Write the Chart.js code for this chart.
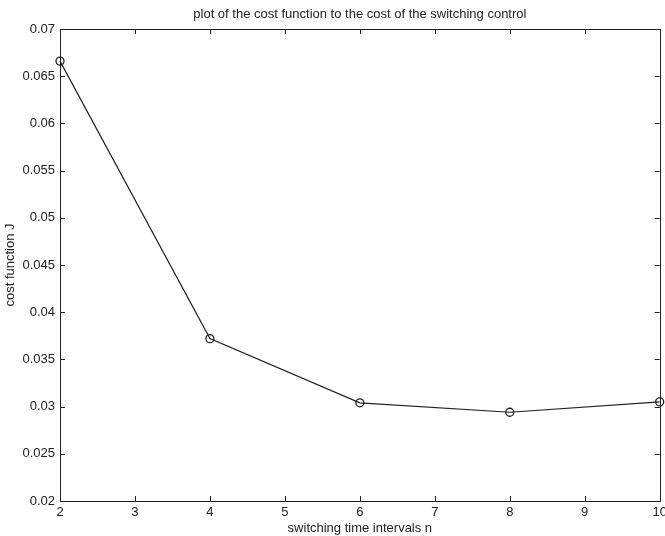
<!DOCTYPE html>
<html>
<head>
<meta charset="utf-8">
<script src="https://cdn.jsdelivr.net/npm/chart.js@4/dist/chart.umd.min.js"></script>
<style>
html,body{margin:0;padding:0;background:#fff;}
#wrap{width:665px;height:536px;position:relative;}
</style>
</head>
<body>
<div id="wrap"><canvas id="c" width="665" height="536"></canvas></div>
<script>
const intervalsN = [2, 4, 6, 8, 10];
const costJ = [0.0666, 0.0372, 0.0304, 0.0294, 0.0305];
const xTicks = [2, 3, 4, 5, 6, 7, 8, 9, 10];
const yTicks = [0.02, 0.025, 0.03, 0.035, 0.04, 0.045, 0.05, 0.055, 0.06, 0.065, 0.07];
const titleText = 'plot of the cost function to the cost of the switching control';
const xTitle = 'switching time intervals n';
const yTitle = 'cost function J';

const FONT = '"Liberation Sans", Arial, Helvetica, sans-serif';
const INK = '#222';

const boxPlugin = {
  id: 'box',
  afterDraw(chart) {
    const {ctx, chartArea: a, scales} = chart;
    ctx.save();
    ctx.strokeStyle = INK;
    ctx.lineWidth = 1;
    ctx.strokeRect(Math.round(a.left) + 0.5, Math.round(a.top) + 0.5, Math.round(a.right - a.left), Math.round(a.bottom - a.top));
    const L = 5;
    ctx.beginPath();
    xTicks.forEach(v => {
      const px = Math.round(scales.x.getPixelForValue(v)) + 0.5;
      ctx.moveTo(px, a.bottom); ctx.lineTo(px, a.bottom - L);
      ctx.moveTo(px, a.top); ctx.lineTo(px, a.top + L);
    });
    yTicks.forEach(v => {
      const py = Math.round(scales.y.getPixelForValue(v)) + 0.5;
      ctx.moveTo(a.left, py); ctx.lineTo(a.left + L, py);
      ctx.moveTo(a.right, py); ctx.lineTo(a.right - L, py);
    });
    ctx.stroke();
    ctx.fillStyle = INK;
    ctx.font = '13px ' + FONT;
    ctx.textAlign = 'center';
    ctx.textBaseline = 'middle';
    ctx.fillText(titleText, (a.left + a.right) / 2, 14);
    ctx.restore();
  }
};

new Chart(document.getElementById('c'), {
  type: 'line',
  data: {
    datasets: [{
      data: intervalsN.map((n, i) => ({x: n, y: costJ[i]})),
      borderColor: INK,
      borderWidth: 1.2,
      pointRadius: 4,
      pointBorderWidth: 1.3,
      pointBorderColor: INK,
      pointBackgroundColor: 'rgba(0,0,0,0)',
      pointStyle: 'circle',
      tension: 0,
      fill: false,
      clip: false
    }]
  },
  options: {
    responsive: false,
    animation: false,
    events: [],
    layout: {padding: {top: 29, right: 2, left: 0, bottom: 0}},
    plugins: {legend: {display: false}, tooltip: {enabled: false}, title: {display: false}},
    scales: {
      x: {
        type: 'linear', min: 2, max: 10,
        afterBuildTicks: s => { s.ticks = xTicks.map(v => ({value: v})); },
        afterFit: s => { s.height = 35; s.paddingLeft = 0; s.paddingRight = 0; },
        grid: {display: false, drawTicks: false},
        border: {display: false},
        ticks: {color: INK, font: {family: FONT, size: 13}, padding: 4, maxRotation: 0, autoSkip: false,
          callback: v => String(v)},
        title: {display: true, text: xTitle, color: INK, font: {family: FONT, size: 13}, padding: {top: 0, bottom: 0}}
      },
      y: {
        type: 'linear', min: 0.02, max: 0.07,
        afterBuildTicks: s => { s.ticks = yTicks.map(v => ({value: v})); },
        afterFit: s => { s.width = 60; s.paddingTop = 0; s.paddingBottom = 0; },
        grid: {display: false, drawTicks: false},
        border: {display: false},
        ticks: {color: INK, font: {family: FONT, size: 13}, padding: 5, autoSkip: false,
          callback: v => String(Number(v.toFixed(3)))},
        title: {display: true, text: yTitle, color: INK, font: {family: FONT, size: 13}, padding: {top: 3, bottom: 0}}
      }
    }
  },
  plugins: [boxPlugin]
});
</script>
</body>
</html>
